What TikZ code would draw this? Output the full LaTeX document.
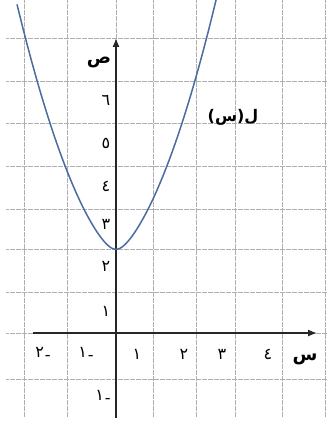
\documentclass[tikz,border=0pt]{standalone}
\usepackage{fontspec}
\newfontfamily\arabicfont[Script=Arabic]{DejaVu Sans}
\TeXXeTstate=1
\usetikzlibrary{arrows.meta}
\definecolor{curveblue}{RGB}{74,108,160}
\definecolor{gridgray}{RGB}{175,175,175}

\begin{document}
\begin{tikzpicture}[x=1pt, y=-1pt,
    gridline/.style={gridgray, line width=0.6pt, dash pattern=on 0.6pt off 0.6pt},
    axisline/.style={black!85, line width=1.3pt, -{Latex[length=9pt,width=7pt]}},
    curveline/.style={curveblue, line width=1.5pt},
    numlabel/.style={font=\arabicfont\fontsize{16}{18}\selectfont, inner sep=0pt},
    namelabel/.style={font=\arabicfont\bfseries\fontsize{18}{20}\selectfont, inner sep=0pt}]
    \useasboundingbox (0,0) rectangle (328,425);

    % شبكة
    \foreach \gx in {24,67,116,153,196,235,282,325}
        \draw[gridline] (\gx,0) -- (\gx,417);
    \foreach \gy in {38,81,123,166,209,249,292,333,379}
        \draw[gridline] (6,\gy) -- (328,\gy);

    % المحاور
    \coordinate (xstart) at (33,333);
    \coordinate (xend) at (317,333);
    \coordinate (ystart) at (116,418);
    \coordinate (yend) at (116,38);
    \draw[axisline] (xstart) -- (xend);
    \draw[axisline] (ystart) -- (yend);

    % المنحنى
    \draw[curveline] plot[domain=-99:102, samples=120, smooth]
        ({116+\x}, {249.3-(0.01569*\x*\x+1.019*(sqrt(\x*\x+100)-10))});

    % أرقام المحور ص
    \foreach \lab/\py in {١/311,٢/266,٣/224,٤/186,٥/143,٦/100}
        \node[numlabel] (ylab\py) at (106,\py) {\lab};

    % أرقام المحور س
    \foreach \lab/\px in {١/137,٢/184,٣/222,٤/268}
        \node[numlabel] (xlab\px) at (\px,354) {\lab};
    \foreach \lab/\px/\py in {٢/43/354,١/86/354,١/103/397}
        \node[numlabel] (xneg\px) at (\px,\py) {\lab\kern1pt\raisebox{-3pt}{-}};

    % أسماء المحاور والدالة
    \node[namelabel] (ylabel) at (99,62) {ص};
    \node[namelabel] (xlabel) at (305,359) {س};
    \node[namelabel, font=\arabicfont\bfseries\fontsize{16}{18}\selectfont] (fname) at (233,117) {\beginR ل(س)\endR};
\end{tikzpicture}
\end{document}
